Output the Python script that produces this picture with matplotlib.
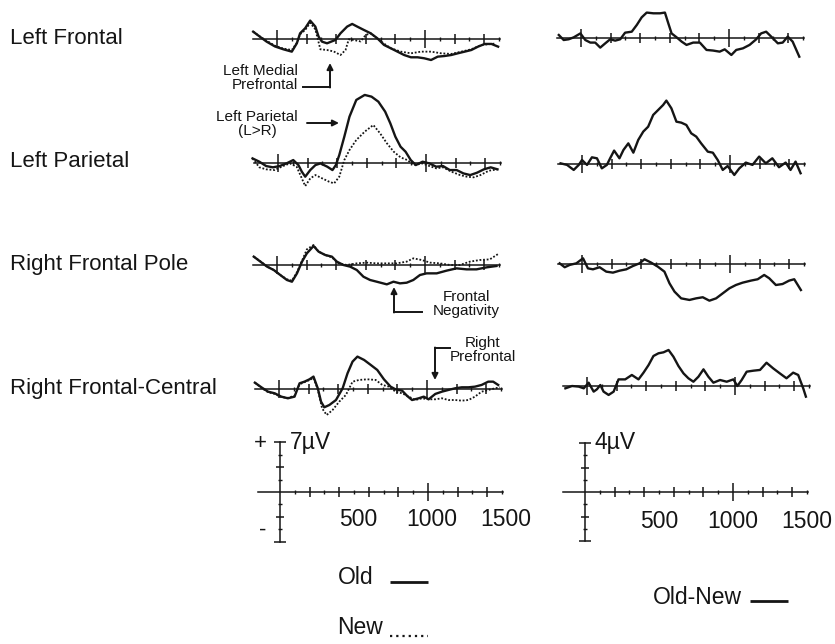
import matplotlib
matplotlib.use('Agg')
import matplotlib.pyplot as plt
from matplotlib import font_manager
from matplotlib.ticker import FixedLocator

# ---------------- data (time in ms, amplitude in microvolts) ----------------
rows = ["Left Frontal", "Left Parietal", "Right Frontal Pole", "Right Frontal-Central"]

LF_old_t = [-161,-116,-70,-14,43,100,134,156,190,224,259,281,304,338,395,429,474,508,542,587,633,678,723,769,814,859,905,950,995,1041,1086,1132,1177,1222,1268,1313,1358,1404,1449,1494]
LF_old_v = [1.07,0.37,-0.33,-1.0,-1.4,-1.73,-0.56,0.84,1.54,2.62,1.78,0.37,-0.33,-0.56,-0.09,0.84,1.78,2.15,1.78,1.31,0.84,0.14,-0.79,-1.26,-1.73,-2.2,-2.52,-2.52,-2.66,-2.9,-2.43,-2.34,-2.2,-1.96,-1.73,-1.5,-1.03,-0.65,-0.65,-1.03]
LF_new_t = [-161,-116,-70,-14,43,100,134,156,190,224,259,293,338,383,429,463,485,519,565,599,633,678,723,769,837,905,973,1041,1109,1177,1245,1313,1381,1472]
LF_new_v = [1.07,0.4,-0.2,-0.9,-1.3,-1.5,-0.5,0.7,1.3,2.3,1.4,-1.4,-1.5,-1.7,-2.2,-1.5,0.0,-0.1,-0.3,0.6,0.84,0.1,-0.6,-1.26,-1.73,-1.96,-1.73,-1.73,-1.96,-2.05,-1.73,-1.4,-0.8,-0.6]
LF_diff_t = [-150,-117,-83,-49,-4,29,63,96,130,164,197,231,265,298,343,377,410,444,489,534,567,590,612,646,680,713,758,803,848,892,937,971,1016,1049,1094,1139,1184,1217,1251,1285,1330,1363,1397,1430,1475]
LF_diff_v = [0.27,-0.14,-0.08,0.08,0.4,-0.14,-0.35,-0.35,-0.76,-0.41,-0.08,-0.19,-0.08,0.46,0.54,1.09,1.71,2.1,2.04,2.04,2.1,1.22,0.4,0.08,-0.27,-0.54,-0.35,-0.35,-0.95,-1.0,-1.09,-0.9,-1.36,-0.95,-0.82,-0.54,-0.08,0.4,0.54,0.14,-0.41,-0.35,0.14,-0.27,-1.5]

LP_old_t = [-172,-126,-80,-34,11,57,103,138,161,184,218,253,287,333,368,391,414,448,483,529,586,632,678,724,759,793,828,862,897,931,977,1023,1069,1115,1161,1207,1253,1299,1345,1391,1437,1483]
LP_old_v = [0.6,0.14,-0.47,-0.65,-0.47,-0.1,0.37,-0.33,-1.26,-1.96,-1.03,-0.33,-0.1,-0.56,-1.03,-0.33,1.07,3.64,6.45,8.79,9.49,9.25,8.55,7.15,5.51,3.64,2.24,1.54,0.37,-0.33,0.14,-0.1,-0.56,-0.47,-1.03,-1.03,-1.5,-1.73,-1.4,-0.93,-0.65,-0.93]
LP_new_t = [-172,-126,-80,-23,34,80,126,161,184,218,253,299,345,379,414,448,483,529,586,644,690,736,782,828,874,920,977,1023,1069,1115,1172,1230,1276,1322,1368,1425,1483]
LP_new_v = [0.6,-0.65,-0.93,-1.03,-0.47,-0.1,-0.56,-2.2,-3.27,-2.2,-1.73,-2.2,-2.66,-2.9,-1.96,0.37,1.78,3.18,4.35,5.28,4.11,2.71,1.54,0.75,0.37,-0.33,-0.1,-0.47,-0.79,-0.65,-1.26,-1.73,-1.96,-2.05,-1.73,-1.12,-0.93]
LP_diff_t = [-145,-101,-56,-22,0,34,67,101,134,168,190,217,253,280,313,347,380,414,447,481,515,548,570,604,638,671,705,738,772,805,850,884,917,951,984,1029,1063,1107,1152,1197,1242,1286,1331,1376,1409,1443,1477]
LP_diff_v = [0.08,-0.05,-0.46,-0.05,0.35,-0.05,0.57,0.49,-0.33,-0.05,0.49,1.12,0.49,1.17,1.71,0.95,1.99,2.67,3.07,4.03,4.44,4.84,5.2,4.57,3.48,3.4,3.21,2.53,2.26,1.71,1.03,0.95,0.35,-0.46,-0.14,-0.87,-0.33,0.14,-0.05,0.63,0.08,0.49,-0.24,0.14,-0.46,0.22,-0.73]

RFP_old_t = [-157,-112,-67,-22,22,67,101,135,169,202,247,281,326,371,404,449,494,539,584,629,674,742,787,831,876,921,966,1011,1079,1146,1213,1281,1348,1416,1483]
RFP_old_v = [1.17,0.47,-0.23,-0.7,-1.4,-2.1,-2.34,-1.17,0.47,1.64,2.66,1.87,1.4,1.17,0.47,0.0,-0.23,-0.7,-1.64,-2.1,-2.34,-2.71,-2.34,-2.57,-2.48,-2.1,-1.4,-1.17,-1.17,-0.79,-0.47,-0.61,-0.61,-0.33,-0.14]
RFP_new_t = [-157,-112,-67,-22,22,67,101,135,169,202,247,281,326,371,416,472,539,607,674,742,809,876,921,978,1034,1101,1169,1236,1303,1371,1438,1494]
RFP_new_v = [1.17,0.5,-0.2,-0.7,-1.4,-2.0,-2.2,-1.0,0.6,2.2,2.8,1.87,1.4,1.07,0.23,0.0,0.23,0.33,0.23,0.23,0.23,0.47,0.93,0.7,0.33,0.23,0.0,0.0,0.47,0.7,0.79,1.54]
RFP_diff_t = [-151,-117,-83,-38,7,40,74,119,164,209,254,299,344,389,422,467,512,557,591,625,670,726,771,816,861,906,951,996,1040,1085,1142,1187,1231,1265,1310,1355,1400,1434,1479]
RFP_diff_v = [0.08,-0.24,-0.05,0.08,0.49,-0.33,-0.41,-0.24,-0.6,-0.68,-0.52,-0.41,-0.14,0.08,0.41,0.14,-0.19,-0.6,-1.55,-2.23,-2.78,-2.91,-2.78,-2.69,-2.97,-2.78,-2.37,-1.96,-1.69,-1.5,-1.33,-1.22,-0.87,-1.14,-1.69,-1.61,-1.33,-1.22,-2.1]

RFC_old_t = [-163,-119,-74,-29,16,60,105,139,172,206,233,262,284,306,340,385,430,463,497,530,575,620,664,709,754,787,832,866,899,944,978,1011,1056,1101,1145,1190,1235,1280,1324,1369,1414,1447,1481]
RFC_old_v = [0.93,0.28,-0.33,-0.56,-1.03,-1.26,-1.03,0.84,1.07,1.4,1.78,0.14,-1.73,-2.52,-2.2,-1.5,0.14,2.24,3.88,4.58,4.11,3.41,2.71,1.4,0.37,0.0,-0.19,-0.93,-1.5,-1.26,-1.03,-1.4,-0.65,-0.33,-0.09,0.14,0.28,0.28,0.37,0.61,1.07,1.07,0.61]
RFC_new_t = [-163,-119,-74,-29,16,60,105,139,172,206,233,262,291,322,362,407,452,497,541,597,653,698,743,787,832,877,921,966,1011,1056,1101,1145,1190,1235,1280,1324,1369,1414,1459,1492]
RFC_new_v = [0.93,0.2,-0.4,-0.65,-1.1,-1.2,-0.9,0.7,1.0,1.3,1.6,0.0,-2.66,-3.6,-2.9,-1.73,-0.79,1.07,1.31,1.4,1.31,0.61,0.37,-0.33,-0.56,-1.03,-1.5,-1.26,-1.4,-1.4,-1.26,-1.5,-1.5,-1.59,-1.5,-1.03,-0.33,-0.09,0.14,0.28]
RFC_diff_t = [-146,-101,-56,-22,11,45,67,90,112,146,180,213,258,303,348,382,416,449,483,517,551,584,618,652,685,719,753,787,820,854,899,944,989,1016,1045,1079,1124,1169,1213,1258,1303,1348,1393,1427,1461,1479]
RFC_diff_v = [-0.19,0.0,-0.05,-0.19,0.27,-0.46,-0.27,0.08,-0.46,-0.73,-0.46,0.54,0.54,0.9,0.54,1.09,1.71,2.45,2.67,2.75,2.94,2.39,1.63,1.03,0.63,0.35,0.76,1.36,0.76,0.27,0.49,0.35,0.54,0.0,0.49,1.17,1.25,1.31,1.9,1.44,1.03,0.63,1.09,0.9,-0.19,-0.87]

old_new = [(LF_old_t, LF_old_v, LF_new_t, LF_new_v),
           (LP_old_t, LP_old_v, LP_new_t, LP_new_v),
           (RFP_old_t, RFP_old_v, RFP_new_t, RFP_new_v),
           (RFC_old_t, RFC_old_v, RFC_new_t, RFC_new_v)]
diffs = [(LF_diff_t, LF_diff_v), (LP_diff_t, LP_diff_v),
         (RFP_diff_t, RFP_diff_v), (RFC_diff_t, RFC_diff_v)]

MAJOR_T = [0, 200, 400, 600, 800, 1000, 1200, 1400]
MINOR_T = [100, 300, 500, 700, 900, 1100, 1300, 1500]
LONG_T = [0, 1000]
SCALE_LABELS = [500, 1000, 1500]
LEFT_SCALE_UV = 7
RIGHT_SCALE_UV = 4

# ---------------- styling / layout ----------------
W, H = 835, 644
fig = plt.figure(figsize=(W / 100, H / 100), dpi=100)
fig.patch.set_facecolor('white')

names = {f.name for f in font_manager.fontManager.ttflist}
HAS_NARROW = 'Liberation Sans Narrow' in names
NARROW = 'Liberation Sans Narrow' if HAS_NARROW else 'Liberation Sans'
BIG = 19.5 if HAS_NARROW else 16.5
REG = 'Liberation Sans'
INK = '#151515'
KX = 0.148  # pixels per ms

# pixel geometry for each row: (x of t=0, y of 0 uV)
LEFT_ROWS = [(277, 39.3), (278, 162.7), (277, 265.0), (279, 389.3)]
RIGHT_ROWS = [(581, 38.3), (582, 164.3), (582, 264.3), (587, 386.0)]
KY_L = 7.14   # px per uV, left column (7 uV scale)
KY_R = 12.25  # px per uV, right column (4 uV scale)


def make_axes(x0, y0, ky, tlim, vlim):
    left = x0 + tlim[0] * KX
    right = x0 + tlim[1] * KX
    top = y0 - vlim[1] * ky
    bottom = y0 - vlim[0] * ky
    ax = fig.add_axes([left / W, 1 - bottom / H, (right - left) / W, (bottom - top) / H])
    ax.set_xlim(*tlim)
    ax.set_ylim(*vlim)
    ax.patch.set_visible(False)
    for s in ('top', 'right', 'left'):
        ax.spines[s].set_visible(False)
    sp = ax.spines['bottom']
    sp.set_position(('data', 0))
    sp.set_linewidth(1.1)
    sp.set_color(INK)
    return ax


def time_ticks(ax, lo, majors):
    ax.spines['bottom'].set_bounds(lo, 1510)
    ax.xaxis.set_major_locator(FixedLocator(majors))
    ax.xaxis.set_minor_locator(FixedLocator(MINOR_T))
    ax.tick_params(axis='x', which='major', direction='inout', length=7, width=1.1,
                   color=INK, labelbottom=False, bottom=True, top=False)
    ax.tick_params(axis='x', which='minor', direction='inout', length=3, width=1.0,
                   color=INK, bottom=True, top=False)
    for loc, tk in zip(majors, ax.xaxis.get_major_ticks()):
        if loc in LONG_T:
            tk.tick1line.set_markersize(13)


# overlay in pixel coordinates for labels / annotations
ov = fig.add_axes([0, 0, 1, 1])
ov.set_xlim(0, W)
ov.set_ylim(H, 0)
ov.axis('off')
ov.patch.set_visible(False)

# ---------------- trace panels ----------------
for i, (ot, ovv, nt, nv) in enumerate(old_new):
    x0, y0 = LEFT_ROWS[i]
    ax = make_axes(x0, y0, KY_L, (-200, 1560), (-5, 11))
    time_ticks(ax, -165, MAJOR_T)
    ax.set_yticks([])
    ax.plot(nt, nv, color=INK, lw=1.3, ls=(0, (1, 1)), clip_on=False)
    ax.plot(ot, ovv, color=INK, lw=1.7, clip_on=False, solid_joinstyle='round')

    x0, y0 = RIGHT_ROWS[i]
    ax = make_axes(x0, y0, KY_R, (-200, 1560), (-3.6, 6.2))
    time_ticks(ax, -160, MAJOR_T)
    ax.set_yticks([])
    dt, dv = diffs[i]
    ax.plot(dt, dv, color=INK, lw=1.7, clip_on=False, solid_joinstyle='round')

    ov.text(10, LEFT_ROWS[i][1] - 1, rows[i], ha='left', va='center',
            fontsize=16, family=REG, color=INK)

# ---------------- scale panels ----------------
def scale_axes(x0, y0, ky, amp, lab_dy_px, lab_dx_pt):
    ax = make_axes(x0, y0, ky, (-200, 1560), (-amp * 1.2, amp * 1.2))
    time_ticks(ax, -150, [t for t in MAJOR_T if t != 0])
    sp = ax.spines['left']
    sp.set_visible(True)
    sp.set_position(('data', 0))
    sp.set_bounds(-amp, amp)
    sp.set_linewidth(1.1)
    sp.set_color(INK)
    majors = [-amp, -amp / 2, amp / 2, amp]
    ax.yaxis.set_major_locator(FixedLocator(majors))
    ax.yaxis.set_minor_locator(FixedLocator([-amp * 0.75, -amp * 0.25, amp * 0.25, amp * 0.75]))
    ax.tick_params(axis='y', which='major', direction='inout', length=6, width=1.1,
                   color=INK, labelleft=False, left=True, right=False)
    ax.tick_params(axis='y', which='minor', direction='inout', length=3, width=1.0,
                   color=INK, left=True, right=False)
    for loc, tk in zip(majors, ax.yaxis.get_major_ticks()):
        if abs(loc) == amp:
            tk.tick1line.set_markersize(8)
    for t in SCALE_LABELS:
        ax.annotate(str(t), xy=(t, 0), xycoords='data', xytext=(lab_dx_pt, -lab_dy_px * 0.72),
                    textcoords='offset points', ha='center', va='center',
                    family=NARROW, fontsize=BIG, color=INK)
    ax.annotate(f"{amp}\u00b5V", xy=(0, amp), xycoords='data', xytext=(7, 0),
                textcoords='offset points', ha='left', va='center',
                family=NARROW, fontsize=BIG, color=INK)
    return ax


axl = scale_axes(280, 492, KY_L, LEFT_SCALE_UV, 28, 3)
axr = scale_axes(585, 492, KY_R, RIGHT_SCALE_UV, 30, 0)
ov.text(260, 443, '+', ha='center', va='center', family=REG, fontsize=16, color=INK)
ov.text(263, 530, '-', ha='center', va='center', family=REG, fontsize=16, color=INK)

# ---------------- legends ----------------
ov.text(338, 577, 'Old', ha='left', va='center', family=NARROW, fontsize=BIG, color=INK)
ov.plot([390, 428], [582, 582], color=INK, lw=2.0, solid_capstyle='butt')
ov.text(337, 627, 'New', ha='left', va='center', family=NARROW, fontsize=BIG, color=INK)
ov.plot([390, 428], [636, 636], color=INK, lw=1.6, ls=(0, (1, 1.8)))
ov.text(653, 597, 'Old-New', ha='left', va='center', family=NARROW, fontsize=BIG, color=INK)
ov.plot([750, 788], [601, 601], color=INK, lw=2.0, solid_capstyle='butt')

# ---------------- annotations ----------------
AK = dict(arrowstyle='-|>', color=INK, lw=1.4, mutation_scale=9, shrinkA=0, shrinkB=0)
ANN_FS = 11

ov.text(298, 78, 'Left Medial\nPrefrontal', ha='right', va='center', multialignment='right',
        family=REG, fontsize=ANN_FS, linespacing=1.05, color=INK)
ov.plot([303, 330], [87, 87], color=INK, lw=1.4)
ov.annotate('', xy=(330, 63), xytext=(330, 87.5), arrowprops=AK)

ov.text(257, 124, 'Left Parietal\n(L>R)', ha='center', va='center', multialignment='center',
        family=REG, fontsize=ANN_FS, linespacing=1.05, color=INK)
ov.annotate('', xy=(339, 123), xytext=(307, 123), arrowprops=AK)

ov.text(466, 304, 'Frontal\nNegativity', ha='center', va='center', multialignment='center',
        family=REG, fontsize=ANN_FS, linespacing=1.05, color=INK)
ov.plot([422, 394], [312, 312], color=INK, lw=1.4)
ov.annotate('', xy=(394, 287), xytext=(394, 312.5), arrowprops=AK)

ov.text(483, 350, 'Right\nPrefrontal', ha='center', va='center', multialignment='center',
        family=REG, fontsize=ANN_FS, linespacing=1.05, color=INK)
ov.plot([450, 435], [348, 348], color=INK, lw=1.4)
ov.annotate('', xy=(435, 380), xytext=(435, 347.5), arrowprops=AK)

fig.savefig('out.png', dpi=100, facecolor='white')
